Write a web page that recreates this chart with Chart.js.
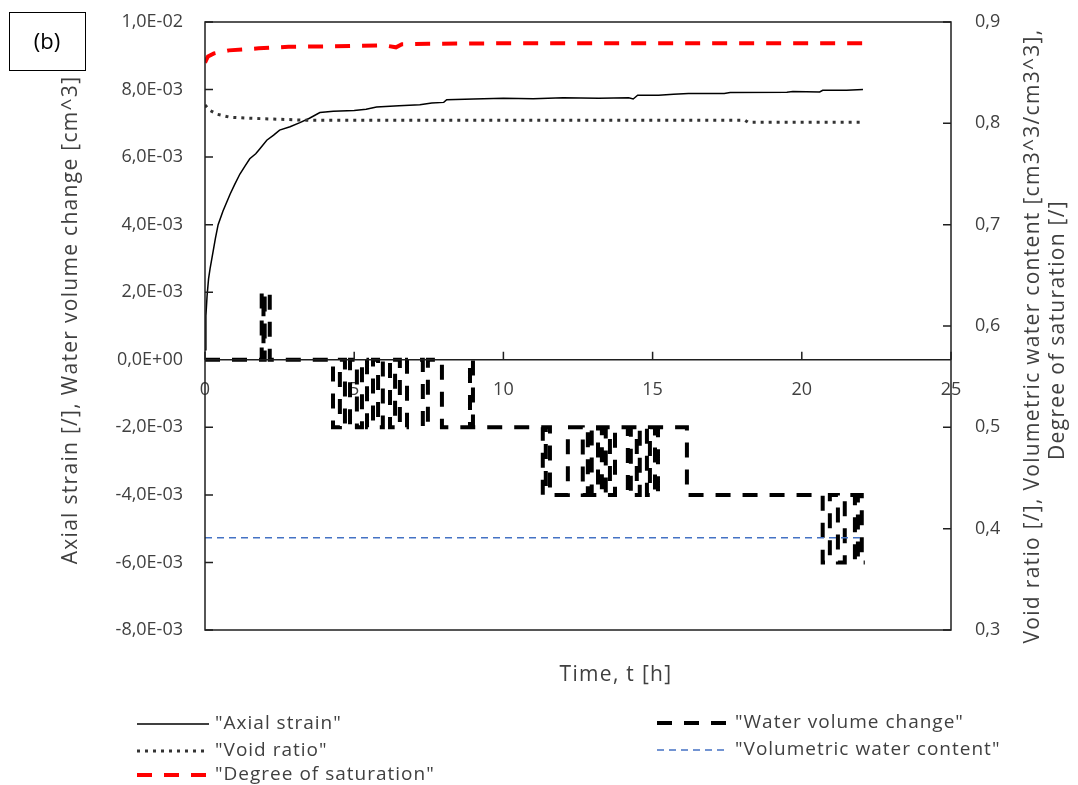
<!DOCTYPE html>
<html>
<head>
<meta charset="utf-8">
<script src="https://cdn.jsdelivr.net/npm/chart.js@4.4.1/dist/chart.umd.min.js"></script>
<style>
  html, body { margin: 0; padding: 0; background: #ffffff; }
  #wrap { width: 1078px; height: 785px; position: relative; }
</style>
</head>
<body>
<div id="wrap"><canvas id="chart" width="1078" height="785"></canvas></div>
<script>
// ---- measured series (time in hours) ----
const axialTime   = [0, 0.03, 0.07, 0.12, 0.17, 0.25, 0.35, 0.44, 0.6, 0.84, 1.0, 1.17, 1.35, 1.5, 1.7, 1.84, 2.07, 2.3, 2.5, 2.85, 3.18, 3.5, 3.85, 4.3, 5.0, 5.4, 5.75, 6.5, 7.2, 7.6, 8.0, 8.1, 9.0, 10.0, 11.0, 12.0, 13.2, 14.2, 14.35, 14.5, 15.2, 15.7, 16.2, 17.4, 17.6, 19.5, 19.7, 20.6, 20.7, 21.5, 22.05];
const axialStrain = [0.0003, 0.0013, 0.0019, 0.0024, 0.0027, 0.0031, 0.0036, 0.0040, 0.0044, 0.0049, 0.0052, 0.0055, 0.00575, 0.00595, 0.0061, 0.00625, 0.0065, 0.00665, 0.0068, 0.0069, 0.00702, 0.00715, 0.00732, 0.00736, 0.00738, 0.00742, 0.00748, 0.00752, 0.00755, 0.0076, 0.00762, 0.0077, 0.00772, 0.00774, 0.00773, 0.00776, 0.00774, 0.00776, 0.00772, 0.00783, 0.00783, 0.00786, 0.00788, 0.00788, 0.00791, 0.00792, 0.00794, 0.00793, 0.00798, 0.00798, 0.0080];

const voidTime  = [0, 0.15, 0.4, 0.84, 1.5, 2.5, 3.5, 18.1, 18.2, 22.05];
const voidRatio = [0.818, 0.813, 0.809, 0.806, 0.805, 0.804, 0.803, 0.803, 0.801, 0.801];

const satTime    = [0, 0.1, 0.3, 0.8, 1.8, 2.8, 4.2, 6.0, 6.4, 6.6, 7.5, 10.0, 22.05];
const saturation = [0.860, 0.866, 0.869, 0.872, 0.874, 0.8755, 0.876, 0.877, 0.875, 0.878, 0.8785, 0.879, 0.879];

const vwcTime = [0, 22.1];
const vwcContent = [0.391, 0.391];

// water volume change: each entry is the moment the reading switches to a new level
const wvcTime  = [0, 1.9, 1.96, 2.0, 2.17, 4.29, 4.52, 4.69, 4.86, 5.09, 5.26, 5.43, 5.63, 5.80, 5.96, 6.20, 6.37, 6.53, 6.77, 7.30, 7.47, 7.94, 8.88, 8.98, 11.32, 11.42, 11.56, 12.16, 12.66, 12.83, 12.96, 13.17, 13.30, 13.43, 13.57, 13.74, 14.17, 14.27, 14.47, 14.57, 14.81, 14.91, 15.08, 15.18, 16.15, 20.70, 20.94, 21.21, 21.44, 21.78, 21.88, 22.01, 22.11];
const wvcValue = [0, 0.002, 0, 0.002, 0, -0.002, 0, -0.002, 0, -0.002, 0, -0.002, 0, -0.002, 0, -0.002, 0, -0.002, 0, -0.002, 0, -0.002, 0, -0.002, -0.004, -0.002, -0.004, -0.002, -0.004, -0.002, -0.004, -0.002, -0.004, -0.002, -0.004, -0.002, -0.004, -0.002, -0.004, -0.002, -0.004, -0.002, -0.004, -0.002, -0.004, -0.006, -0.004, -0.006, -0.004, -0.006, -0.004, -0.006, -0.006];

// ---- axis ticks ----
const timeTicks  = [0, 5, 10, 15, 20, 25];
const leftTicks  = [-0.008, -0.006, -0.004, -0.002, 0, 0.002, 0.004, 0.006, 0.008, 0.01];
const rightTicks = [0.3, 0.4, 0.5, 0.6, 0.7, 0.8, 0.9];

const FONT = "'Open Sans', 'Noto Sans', sans-serif";
const TEXT = '#404040';

// plot frame in canvas pixels
const PLOT = { left: 205, top: 22, right: 951, bottom: 630 };

const pts = (xs, ys) => xs.map((x, i) => ({ x: x, y: ys[i] }));

function sciComma(v) {
  if (Math.abs(v) < 1e-12) return '0,0E+00';
  const s = v.toExponential(1);           // e.g. "-8.0e-3"
  const m = s.split('e');
  const exp = parseInt(m[1], 10);
  const expStr = (exp < 0 ? '-' : '+') + String(Math.abs(exp)).padStart(2, '0');
  return m[0].replace('.', ',') + 'E' + expStr;
}

const datasets = [
  { label: '"Axial strain"', data: pts(axialTime, axialStrain), yAxisID: 'y',
    borderColor: '#000000', borderWidth: 1.5, order: 4 },
  { label: '"Water volume change"', data: pts(wvcTime, wvcValue), yAxisID: 'y',
    borderColor: '#000000', borderWidth: 4, borderDash: [15, 12], stepped: 'before', order: 5 },
  { label: '"Void ratio"', data: pts(voidTime, voidRatio), yAxisID: 'y2',
    borderColor: '#333333', borderWidth: 3, borderDash: [3, 5], order: 3 },
  { label: '"Volumetric water content"', data: pts(vwcTime, vwcContent), yAxisID: 'y2',
    borderColor: '#4472C4', borderWidth: 1.5, borderDash: [7, 5], order: 2 },
  { label: '"Degree of saturation"', data: pts(satTime, saturation), yAxisID: 'y2',
    borderColor: '#FF0000', borderWidth: 4, borderDash: [15, 12], order: 1 }
];
datasets.forEach(d => { d.pointRadius = 0; d.tension = 0; d.fill = false; d.borderCapStyle = 'butt'; });

// legend placement: [dataset index, column x of sample start, row y]
const legendLayout = [
  [0, 137, 724], [2, 137, 751], [4, 137, 775],
  [1, 657, 723], [3, 657, 750]
];

function drawFrame(chart) {
  const { ctx, chartArea: a, scales } = chart;
  const L = a.left, R = a.right, T = a.top, B = a.bottom;
  ctx.save();
  ctx.setLineDash([]);
  ctx.strokeStyle = '#1f1f1f';
  ctx.lineWidth = 1.5;
  ctx.strokeRect(L, T, R - L, B - T);
  ctx.beginPath();
  const y0 = scales.y.getPixelForValue(0);
  ctx.moveTo(L, y0); ctx.lineTo(R, y0);
  timeTicks.forEach(v => {
    const px = scales.x.getPixelForValue(v);
    ctx.moveTo(px, y0); ctx.lineTo(px, y0 - 8);
  });
  leftTicks.forEach(v => {
    const py = scales.y.getPixelForValue(v);
    ctx.moveTo(L, py); ctx.lineTo(L + 8, py);
  });
  rightTicks.forEach(v => {
    const py = scales.y2.getPixelForValue(v);
    ctx.moveTo(R, py); ctx.lineTo(R - 8, py);
  });
  ctx.stroke();
  ctx.restore();
}

const decorations = {
  id: 'decorations',
  afterDatasetsDraw(chart) { drawFrame(chart); },
  afterDraw(chart) {
    const { ctx } = chart;
    ctx.save();
    ctx.fillStyle = TEXT;
    ctx.textAlign = 'center';
    ctx.textBaseline = 'middle';
    ctx.font = '21px ' + FONT;
    ctx.letterSpacing = '1.3px';

    // axis titles
    const vText = (txt, x, y) => {
      ctx.save(); ctx.translate(x, y); ctx.rotate(-Math.PI / 2);
      ctx.textAlign = 'center';
      ctx.fillText(txt, 0, 0); ctx.restore();
    };
    vText('Axial strain [/], Water volume change [cm^3]', 71, 320);
    vText('Void ratio [/], Volumetric water content [cm3^3/cm3^3],', 1033, 336);
    vText('Degree of saturation [/]', 1058, 330);
    ctx.fillText('Time, t [h]', 616, 675);

    // panel tag
    ctx.letterSpacing = '0px';
    ctx.strokeStyle = '#000000';
    ctx.lineWidth = 1;
    ctx.strokeRect(9.5, 12.5, 76, 58);
    ctx.fillStyle = '#000000';
    ctx.font = '22px ' + FONT;
    ctx.fillText('(b)', 47, 43);

    // legend
    ctx.textAlign = 'left';
    ctx.font = '19px ' + FONT;
    ctx.letterSpacing = '1px';
    legendLayout.forEach(([idx, x, y]) => {
      const ds = chart.data.datasets[idx];
      ctx.save();
      ctx.strokeStyle = ds.borderColor;
      ctx.lineWidth = ds.borderWidth;
      ctx.setLineDash(ds.borderDash || []);
      ctx.beginPath();
      ctx.moveTo(x, y); ctx.lineTo(x + 72, y);
      ctx.stroke();
      ctx.restore();
      ctx.fillStyle = TEXT;
      ctx.fillText(ds.label, x + 78, y);
    });
    ctx.restore();
  }
};

new Chart(document.getElementById('chart'), {
  type: 'line',
  data: { datasets: datasets },
  plugins: [decorations],
  options: {
    responsive: false,
    animation: false,
    devicePixelRatio: 1,
    // label overhang is absorbed by the side axes, so the padding maps straight onto the frame
    layout: { padding: { top: PLOT.top, bottom: 785 - PLOT.bottom, left: 0, right: 0 } },
    plugins: { legend: { display: false }, tooltip: { enabled: false } },
    scales: {
      x: {
        type: 'linear', min: 0, max: 25,
        position: { y: 0 },
        afterBuildTicks: s => { s.ticks = timeTicks.map(v => ({ value: v })); },
        ticks: { color: TEXT, font: { family: FONT, size: 18 }, padding: 19, maxRotation: 0,
                 callback: v => String(v) },
        grid: { display: false, drawTicks: false },
        border: { display: false }
      },
      y: {
        type: 'linear', position: 'left', min: -0.008, max: 0.01,
        afterBuildTicks: s => { s.ticks = leftTicks.map(v => ({ value: v })); },
        afterFit: s => { s.width = PLOT.left; s.paddingTop = 0; s.paddingBottom = 0; },
        ticks: { color: TEXT, font: { family: FONT, size: 18 }, padding: 22, callback: v => sciComma(v) },
        grid: { display: false, drawTicks: false },
        border: { display: false }
      },
      y2: {
        type: 'linear', position: 'right', min: 0.3, max: 0.9,
        afterBuildTicks: s => { s.ticks = rightTicks.map(v => ({ value: v })); },
        afterFit: s => { s.width = 1078 - PLOT.right; s.paddingTop = 0; s.paddingBottom = 0; },
        ticks: { color: TEXT, font: { family: FONT, size: 18 }, padding: 24,
                 callback: v => v.toFixed(1).replace('.', ',') },
        grid: { display: false, drawTicks: false },
        border: { display: false }
      }
    }
  }
});
</script>
</body>
</html>
